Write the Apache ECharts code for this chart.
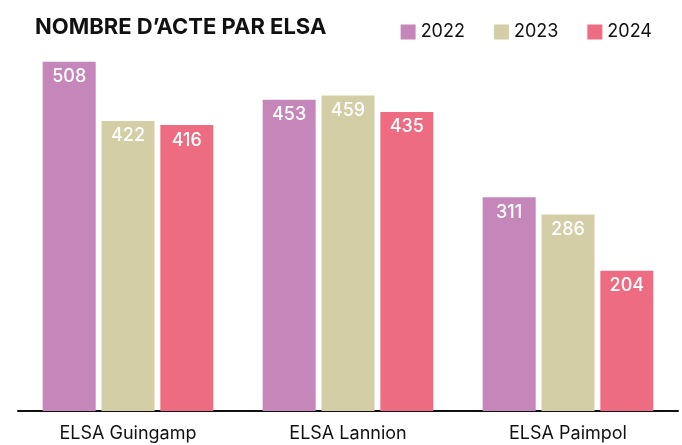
<!DOCTYPE html>
<html>
<head>
<meta charset="utf-8">
<script src="https://cdn.jsdelivr.net/npm/echarts@6/dist/echarts.min.js"></script>
<style>
html,body{margin:0;padding:0;background:#fff;}
#chart{width:682px;height:445px;}
</style>
</head>
<body>
<div id="chart"></div>
<script>
const categories = ['ELSA Guingamp', 'ELSA Lannion', 'ELSA Paimpol'];
const seriesNames = ['2022', '2023', '2024'];
const values2022 = [508, 453, 311];
const values2023 = [422, 459, 286];
const values2024 = [416, 435, 204];
const colors = ['#c587b9', '#d3cea6', '#ee6c81'];

const FONT = 'Inter, Lato, "DejaVu Sans", sans-serif';
const chart = echarts.init(document.getElementById('chart'));
const dataSets = [values2022, values2023, values2024];

chart.setOption({
  animation: false,
  backgroundColor: '#ffffff',
  title: {
    text: 'NOMBRE D\u2019ACTE PAR ELSA',
    left: 30,
    top: 11,
    textStyle: { fontFamily: FONT, fontSize: 22, fontWeight: 'bold', color: '#111' }
  },
  legend: {
    data: seriesNames,
    right: 25,
    top: 18,
    icon: 'rect',
    itemWidth: 15,
    itemHeight: 15,
    itemGap: 29,
    textStyle: { fontFamily: FONT, fontSize: 18, color: '#111' }
  },
  grid: { left: 18, width: 660, top: 33, bottom: 34 },
  xAxis: {
    type: 'category',
    data: categories,
    axisLine: { lineStyle: { color: '#111', width: 2 } },
    axisTick: { show: false },
    axisLabel: { fontFamily: FONT, fontSize: 18, color: '#111', margin: 14 }
  },
  yAxis: {
    type: 'value',
    min: 0,
    max: 550,
    show: false,
    splitLine: { show: false }
  },
  series: seriesNames.map((name, i) => ({
    name: name,
    type: 'bar',
    data: dataSets[i],
    barWidth: 53,
    barGap: '11%',
    itemStyle: { color: colors[i] },
    label: {
      show: true,
      position: 'insideTop',
      distance: 6,
      color: '#fff',
      fontFamily: FONT,
      fontSize: 18,
      fontWeight: 500
    }
  }))
});
</script>
</body>
</html>
